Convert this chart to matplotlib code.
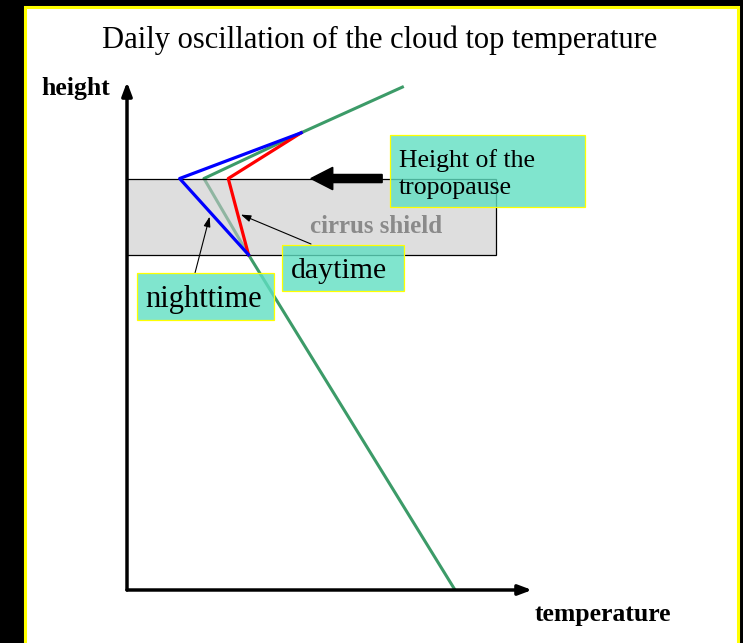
import matplotlib
matplotlib.use('Agg')
import matplotlib.pyplot as plt
from matplotlib.patches import Rectangle

# Datos (unidades arbitrarias: temperatura y altura, 0-100)
temp_fondo = [81, 30, 19, 43, 68]      # perfil medio (verde)
alt_fondo = [0, 66, 81, 90, 99]
temp_noche = [30, 13, 43]              # perfil nocturno (azul)
alt_noche = [66, 81, 90]
temp_dia = [30, 25, 43]                # perfil diurno (rojo)
alt_dia = [66, 81, 90]
alt_tropopausa = 81
alt_base_cirros = 66
ancho_cirros = 91

W, H = 743, 643
plt.rcParams['font.family'] = ['Liberation Serif', 'DejaVu Serif']

fig = plt.figure(figsize=(W / 100, H / 100), dpi=100)
fig.patch.set_facecolor('black')


def fx(px):
    return px / W


def fy(py):
    return 1 - py / H


# panel blanco con borde amarillo
fig.patches.append(Rectangle((fx(25), -0.02), fx(738) - fx(25), fy(7) + 0.02,
                             transform=fig.transFigure, fc='white', ec='#ffff00',
                             lw=2.2, zorder=-1))

ax = fig.add_axes([fx(127), fy(590), fx(532) - fx(127), fy(82) - fy(590)])
ax.set_xlim(0, 100)
ax.set_ylim(0, 100)
ax.axis('off')
ax.patch.set_alpha(0)

# perfil verde (debajo de la capa de cirros)
ax.plot(temp_fondo, alt_fondo, color='#3c9b68', lw=2.2, zorder=1)

# capa de cirros
ax.add_patch(Rectangle((0, alt_base_cirros), ancho_cirros, alt_tropopausa - alt_base_cirros,
                       fc='#c8c8c8', alpha=0.6, ec='none', zorder=2))
ax.add_patch(Rectangle((0, alt_base_cirros), ancho_cirros, alt_tropopausa - alt_base_cirros,
                       fc='none', ec='black', lw=0.9, zorder=2.1))
ax.text(61.5, 71.6, 'cirrus shield', color='#8a8a8a', fontsize=18, fontweight='bold',
        ha='center', va='center', zorder=2.2)

ax.plot(temp_noche, alt_noche, color='#0000ff', lw=2.3, zorder=4)
ax.plot(temp_dia, alt_dia, color='#ff0000', lw=2.3, zorder=3.5)

# flecha gruesa hacia la tropopausa
ax.arrow(63, alt_tropopausa, -17.6, 0, width=1.6, head_width=4.4, head_length=5.4,
         length_includes_head=True, fc='black', ec='black', zorder=5)

# ejes con flechas
ax.annotate('', xy=(0, 100), xytext=(0, 0),
            arrowprops=dict(arrowstyle='-|>,head_length=0.8,head_width=0.3', lw=2.5,
                            color='black', shrinkA=0, shrinkB=0), annotation_clip=False)
ax.annotate('', xy=(100, 0), xytext=(0, 0),
            arrowprops=dict(arrowstyle='-|>,head_length=0.8,head_width=0.3', lw=2.5,
                            color='black', shrinkA=0, shrinkB=0), annotation_clip=False)

# flechas finas de las etiquetas
ax.annotate('', xy=(20.4, 73.5), xytext=(fx(195), fy(273)), textcoords='figure fraction',
            arrowprops=dict(arrowstyle='-|>,head_length=0.6,head_width=0.2', lw=0.8,
                            color='black', shrinkA=0, shrinkB=0))
ax.annotate('', xy=(28.1, 73.9), xytext=(fx(311), fy(244)), textcoords='figure fraction',
            arrowprops=dict(arrowstyle='-|>,head_length=0.6,head_width=0.2', lw=0.8,
                            color='black', shrinkA=0, shrinkB=0))

# cajas de texto
teal = (0.375, 0.875, 0.76)
cajas = [(390, 135, 585, 207), (282, 245, 404, 291), (137, 273, 274, 320)]
for x0, y0, x1, y1 in cajas:
    fig.patches.append(Rectangle((fx(x0), fy(y1)), fx(x1) - fx(x0), fy(y0) - fy(y1),
                                 transform=fig.transFigure, fc=teal, alpha=0.8, zorder=2))
    fig.patches.append(Rectangle((fx(x0), fy(y1)), fx(x1) - fx(x0), fy(y0) - fy(y1),
                                 transform=fig.transFigure, fc='none', ec='#ffff00',
                                 lw=0.9, zorder=2.1))

fig.text(fx(399), fy(174), 'Height of the\ntropopause', fontsize=18.5, ha='left',
         va='center', linespacing=1.3)
fig.text(fx(339), fy(271), 'daytime', fontsize=21.5, ha='center', va='center')
fig.text(fx(204), fy(300), 'nighttime', fontsize=22, ha='center', va='center')

fig.text(fx(380), fy(40), 'Daily oscillation of the cloud top temperature', fontsize=22,
         ha='center', va='center')
fig.text(fx(110), fy(88), 'height', fontsize=18.5, fontweight='bold', ha='right',
         va='center')
fig.text(fx(535), fy(614), 'temperature', fontsize=18.5, fontweight='bold', ha='left',
         va='center')

fig.savefig('out.png', dpi=100, facecolor=fig.get_facecolor())
